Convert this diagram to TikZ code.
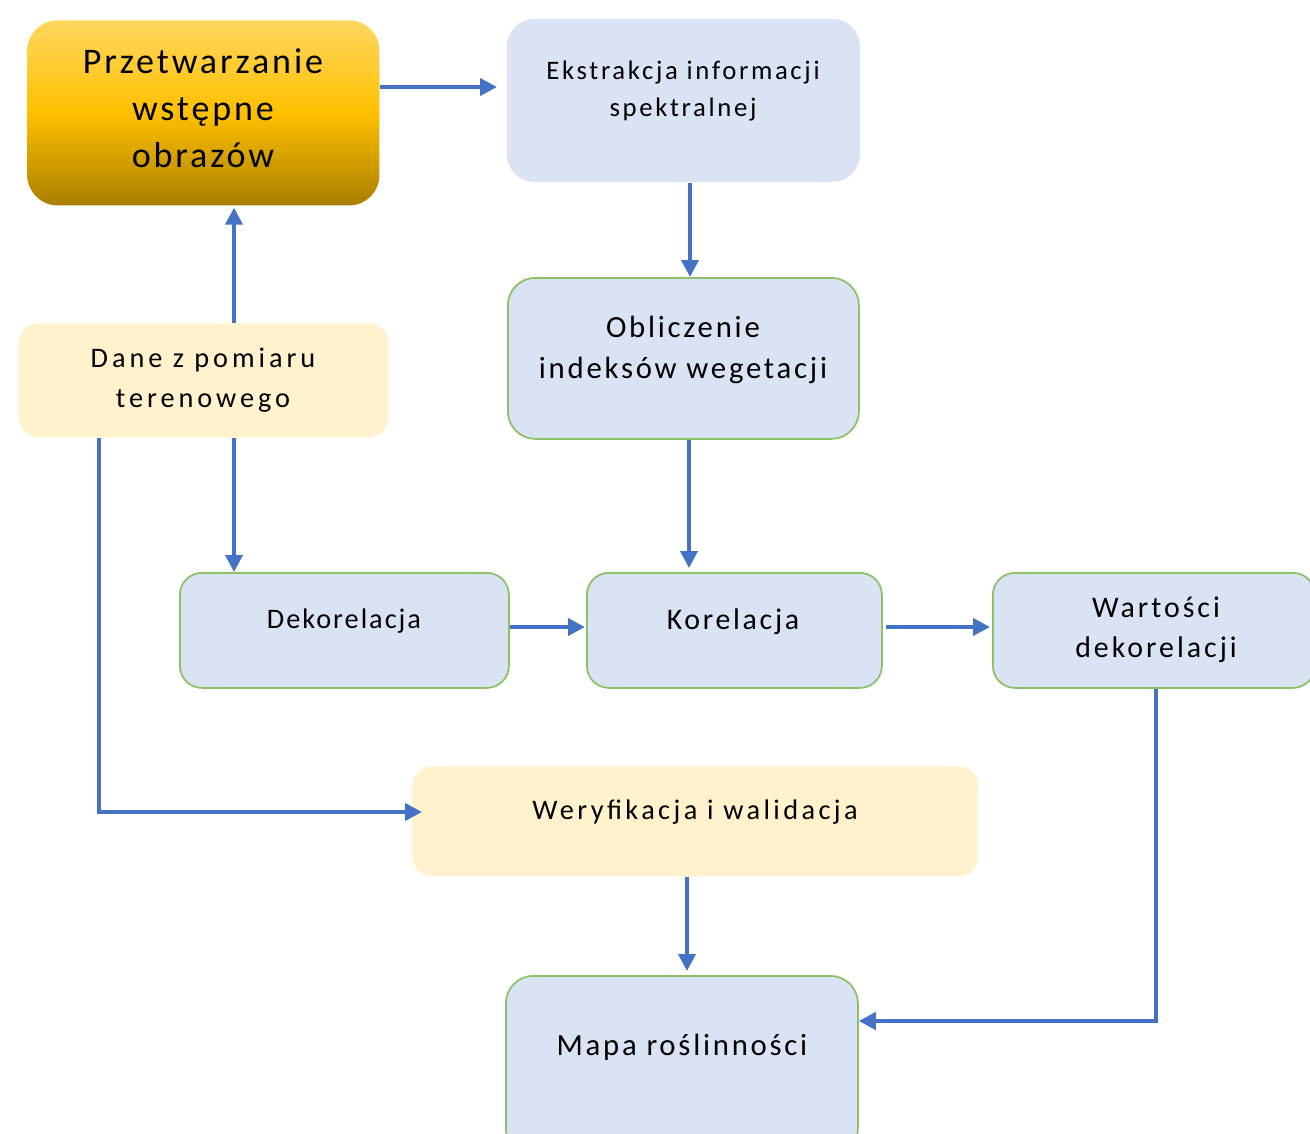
\documentclass[tikz,border=0pt]{standalone}
\usepackage{fontspec}
\setmainfont{Carlito}
\usetikzlibrary{arrows.meta,calc}
\definecolor{flowblue}{HTML}{4472C4}
\definecolor{boxblue}{HTML}{DAE3F3}
\definecolor{boxcream}{HTML}{FFF2CC}
\definecolor{boxgreen}{HTML}{8CC168}
\definecolor{goldtop}{HTML}{FFD760}
\definecolor{goldmid}{HTML}{FFC000}
\definecolor{goldbot}{HTML}{A97F00}

% font size, line distance and letter spacing for a label
\newcommand{\lblfont}[3]{\fontsize{#1}{#2}\selectfont\addfontfeature{LetterSpace=#3}}

\begin{document}
\begin{tikzpicture}[x=0.2mm,y=-0.2mm,
  panel/.style={rectangle, anchor=north west, inner sep=0pt},
  bluepanel/.style={panel, fill=boxblue, draw=boxgreen, line width=1pt, rounded corners=5.5mm},
  creampanel/.style={panel, fill=boxcream, rounded corners=4mm},
  lbl/.style={align=center, inner sep=0pt, text=black},
  arr/.style={draw=flowblue, line width=2.2pt, -{Triangle[length=3.4mm,width=3.4mm]}}]

\useasboundingbox (0,0) rectangle (1310,1134);
\clip (0,0) rectangle (1310,1134);
\fill[white] (0,0) rectangle (1310,1134);

% process boxes
\node[panel, rounded corners=6mm, top color=goldtop, bottom color=goldbot, middle color=goldmid,
      minimum width=70.4mm, minimum height=37mm] (pre) at (27,20) {};
\node[bluepanel, draw=none, minimum width=70.6mm, minimum height=32.6mm] (ext) at (506,18) {};
\node[bluepanel, minimum width=70.2mm, minimum height=32.2mm] (obl) at (507,277) {};
\node[creampanel, minimum width=74mm, minimum height=22.8mm] (dane) at (18,323) {};
\node[bluepanel, rounded corners=4.4mm, minimum width=65.8mm, minimum height=23mm] (dek) at (179,572) {};
\node[bluepanel, rounded corners=4.4mm, minimum width=59mm, minimum height=23mm] (kor) at (586,572) {};
\node[bluepanel, rounded corners=4.4mm, minimum width=64.4mm, minimum height=23mm] (war) at (992,572) {};
\node[creampanel, minimum width=113.2mm, minimum height=22mm] (wer) at (412,766) {};
\node[bluepanel, minimum width=70.4mm, minimum height=36mm] (mapa) at (505,975) {};

% labels
\node[lbl, font=\lblfont{20.5}{26.6}{8}] (preT) at (203,108) {Przetwarzanie\\wstępne\\obrazów};
\node[lbl, font=\lblfont{15.2}{21.5}{10}] (extT) at (683,91) {Ekstrakcja informacji\\spektralnej};
\node[lbl, font=\lblfont{17.5}{23.2}{9}] (oblT) at (683,350) {Obliczenie\\indeksów wegetacji};
\node[lbl, font=\lblfont{16.1}{22.7}{14}] (daneT) at (203,380) {Dane z pomiaru\\terenowego};
\node[lbl, font=\lblfont{16.1}{20}{7}] (dekT) at (344,621) {Dekorelacja};
\node[lbl, font=\lblfont{17}{20}{9}] (korT) at (733,622) {Korelacja};
\node[lbl, font=\lblfont{17}{22.7}{10}] (warT) at (1156,630) {Wartości\\dekorelacji};
\node[lbl, font=\lblfont{16.1}{20}{12}] (werT) at (695,812) {Weryfikacja i walidacja};
\node[lbl, font=\lblfont{17.5}{20}{9}] (mapaT) at (682,1047) {Mapa roślinności};

% connectors
\draw[arr] (pre.east |- 0,87) -- ($(ext.west |- 0,87)+(-9,0)$);
\draw[arr] (ext.south -| 690,0) -- (obl.north -| 690,0);
\draw[arr] (obl.south -| 689,0) -- ($(kor.north -| 689,0)+(0,-4)$);
\draw[arr] (dane.north -| 234,0) -- ($(pre.south -| 234,0)+(0,2)$);
\draw[arr] (dane.south -| 234,0) -- (dek.north -| 234,0);
\draw[arr] (dane.south -| 99,0) |- ($(wer.west |- 0,812)+(10,0)$);
\draw[arr] (dek.east |- 0,627) -- ($(kor.west |- 0,627)+(-1,0)$);
\draw[arr] ($(kor.east |- 0,627)+(3,0)$) -- ($(war.west |- 0,627)+(-2,0)$);
\draw[arr] (war.south -| 1156,0) |- (mapa.east |- 0,1021);
\draw[arr] (wer.south -| 687,0) -- ($(mapa.north -| 687,0)+(0,-4)$);
\end{tikzpicture}
\end{document}
